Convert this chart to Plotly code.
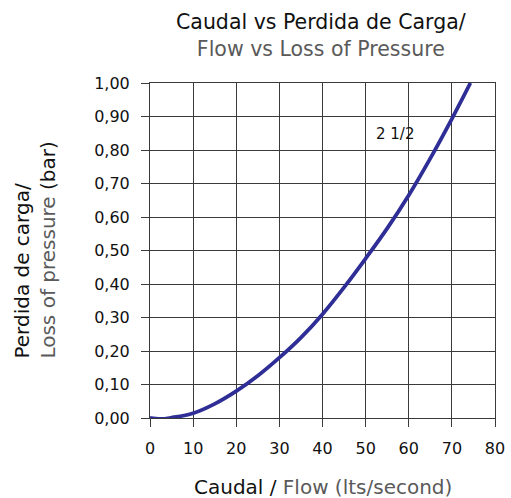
import plotly.graph_objects as go

# Data
flow = [0, 2.5, 5, 10, 15, 20, 25, 30, 35, 40, 45, 50, 55, 60, 65, 70, 74.3]
loss = [0, -0.003, 0.001, 0.014, 0.042, 0.08, 0.126, 0.18, 0.24, 0.31, 0.39, 0.476, 0.566, 0.665, 0.775, 0.893, 1.0]
x_ticks = [0, 10, 20, 30, 40, 50, 60, 70, 80]
y_ticks = [0, 0.1, 0.2, 0.3, 0.4, 0.5, 0.6, 0.7, 0.8, 0.9, 1.0]
y_tick_labels = ["0,00", "0,10", "0,20", "0,30", "0,40", "0,50", "0,60", "0,70", "0,80", "0,90", "1,00"]
series_label = "2 1/2"

FONT = "DejaVu Sans"
GRAY = "#5a5a5a"
GRID = "#3a3a3a"
INK = "#111111"

fig = go.Figure()
fig.add_trace(go.Scatter(
    x=flow, y=loss, mode="lines",
    line=dict(color="#2e2e96", width=3.8, shape="spline", smoothing=1.0),
    showlegend=False, hoverinfo="skip", cliponaxis=False,
))

fig.add_annotation(x=56.8, y=0.848, xref="x", yref="y", text=series_label,
                   showarrow=False, font=dict(family=FONT, size=15, color=INK))

# Title (two lines)
fig.add_annotation(
    x=0.496, y=1.225, xref="paper", yref="paper", xanchor="center", yanchor="top",
    text="Caudal vs Perdida de Carga/<br><span style='color:%s'>Flow vs Loss of Pressure</span>" % GRAY,
    showarrow=False, font=dict(family=FONT, size=20.5, color=INK), align="center",
)
# X axis title
fig.add_annotation(
    x=0.5, y=-0.206, xref="paper", yref="paper", xanchor="center", yanchor="middle",
    text="Caudal / <span style='color:%s'>Flow (lts/second)</span>" % GRAY,
    showarrow=False, font=dict(family=FONT, size=20, color=INK),
)
# Y axis title
fig.add_annotation(
    x=-0.336, y=0.50, xref="paper", yref="paper", xanchor="center", yanchor="middle",
    text="Perdida de carga/<br><span style='color:%s'>Loss of pressure</span> (bar)" % GRAY,
    showarrow=False, textangle=-90, align="left",
    font=dict(family=FONT, size=20, color=INK),
)

fig.update_layout(
    width=511, height=498,
    margin=dict(l=150, r=16, t=83, b=80, autoexpand=False),
    paper_bgcolor="white", plot_bgcolor="white",
    font=dict(family=FONT, color=INK),
    xaxis=dict(
        range=[0, 80], tickvals=x_ticks, ticktext=[str(v) for v in x_ticks],
        showgrid=True, gridcolor=GRID, gridwidth=1,
        showline=True, linecolor=GRID, mirror=True,
        ticks="outside", ticklen=8, tickcolor=GRID, ticklabelstandoff=8,
        tickfont=dict(family=FONT, size=16, color=INK),
        zeroline=False, fixedrange=True, automargin=False,
    ),
    yaxis=dict(
        range=[0, 1.0], tickvals=y_ticks, ticktext=y_tick_labels,
        showgrid=True, gridcolor=GRID, gridwidth=1,
        showline=True, linecolor=GRID, mirror=True,
        ticks="outside", ticklen=8, tickcolor=GRID, ticklabelstandoff=8,
        tickfont=dict(family=FONT, size=16, color=INK),
        zeroline=False, fixedrange=True, automargin=False,
    ),
)

fig.write_html(
    "out.html",
    config={"displayModeBar": False},
    post_script="document.body.style.margin='0';document.body.style.padding='0';",
)
